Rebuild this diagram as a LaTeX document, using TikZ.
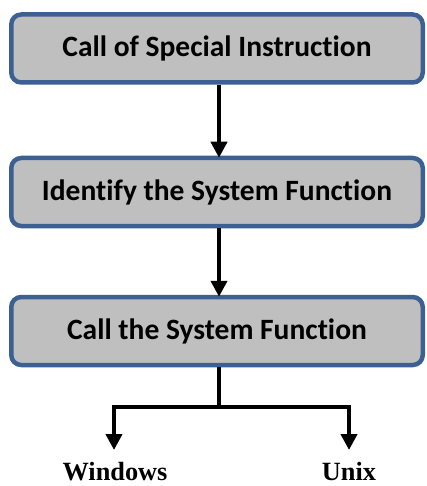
\documentclass[tikz,border=0pt]{standalone}
\usepackage{fontspec}
\newfontfamily\boxfont{Carlito}[Ligatures=NoCommon]
\newfontfamily\labfont{Liberation Serif}
\usetikzlibrary{arrows.meta}
\definecolor{boxborder}{HTML}{3C6091}
\definecolor{boxfill}{HTML}{BFBFBF}
\begin{document}
\begin{tikzpicture}[x=1pt,y=-1pt,
  stepbox/.style={draw=boxborder, line width=4.5pt, fill=boxfill, rounded corners=10pt,
    minimum width=411.5pt, minimum height=68pt, font=\boxfont\bfseries\fontsize{29.5}{32}\selectfont, inner sep=0pt},
  conn/.style={line width=4pt, draw=black},
  arr/.style={conn, -{Triangle[width=16pt,length=16pt]}},
  lab/.style={font=\labfont\bfseries\fontsize{26.3}{28}\selectfont, inner sep=0pt, anchor=base, text depth=0pt}]
\useasboundingbox (0,0) rectangle (426,486);
\node[stepbox] (b1) at (217,48.5) {Call of Special Instruction};
\node[stepbox] (b2) at (217,192) {Identify the System Function};
\node[stepbox] (b3) at (217,331) {Call the System Function};
\draw[arr] (b1.south -| 219,0) -- ([yshift=-2pt]b2.north -| 219,0);
\draw[arr] (b2.south -| 219,0) -- ([yshift=-2pt]b3.north -| 219,0);
\coordinate (j) at (219,407);
\coordinate (jl) at (114,407);
\coordinate (jr) at (349,407);
\coordinate (tl) at (114,450);
\coordinate (tr) at (349,450);
\node[lab] (win) at (115,480) {Windows};
\node[lab] (unix) at (349,480) {Unix};
\draw[conn] (b3.south -| j) -- (j);
\draw[arr] (j) -- (jl) -- (tl);
\draw[arr] (j) -- (jr) -- (tr);
\end{tikzpicture}
\end{document}
